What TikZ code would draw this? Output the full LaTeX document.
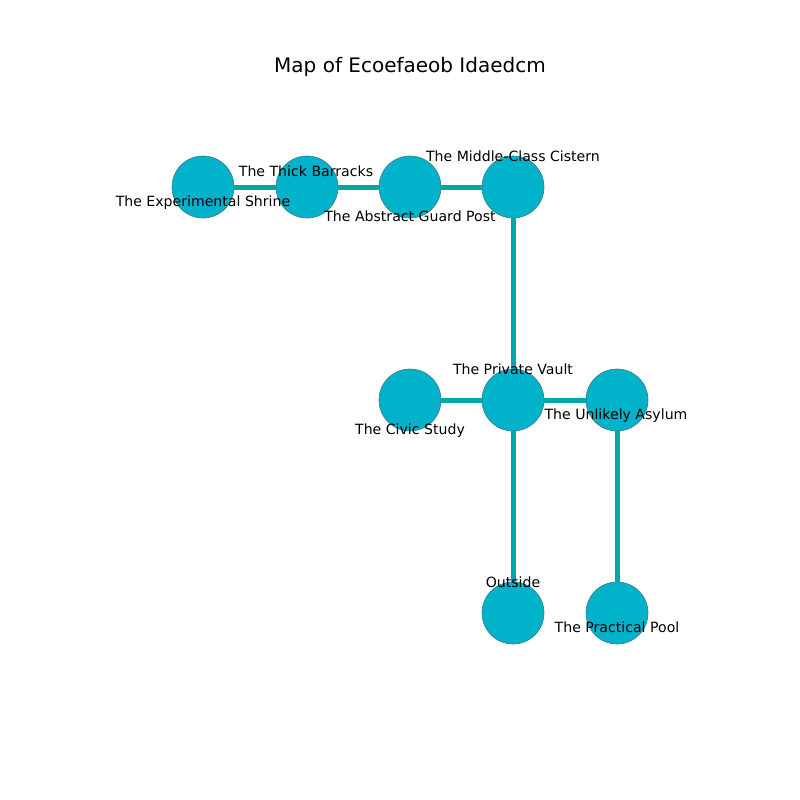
\documentclass[tikz,border=0pt]{standalone}
\usepackage{fontspec}
\setmainfont{DejaVu Sans}
\definecolor{placefill}{RGB}{0,178,202}
\definecolor{placeedge}{RGB}{0,168,168}
\definecolor{placerim}{RGB}{60,120,130}

\begin{document}
\begin{tikzpicture}[x=1pt, y=-1pt]
    \tikzstyle{map place} = [circle,draw=placerim,fill=placefill,line width=0.6pt,inner sep=0pt, minimum size=62pt]
    \tikzstyle{map path} = [draw=placeedge, line width=5pt]
    \tikzstyle{map label} = [inner sep=0pt, font=\fontsize{14.1}{16}\selectfont, text height=0.75em, text depth=0.22em]
\useasboundingbox (0,0) rectangle (800,800);
\node[font=\fontsize{20}{24}\selectfont, inner sep=0pt, text height=0.75em, text depth=0.22em] (title) at (410, 70) {Map of Ecoefaeob Idaedcm};
\node[map place] (shrine) at (203, 187) {};
\node[map place] (barracks) at (307, 187) {};
\node[map place] (guardpost) at (410, 187) {};
\node[map place] (cistern) at (513, 187) {};
\node[map place] (civic) at (410, 400) {};
\node[map place] (vault) at (513, 400) {};
\node[map place] (asylum) at (617, 400) {};
\node[map place] (outside) at (513, 613) {};
\node[map place] (pool) at (617, 613) {};
\draw[map path] (shrine) -- (barracks);
\draw[map path] (barracks) -- (guardpost);
\draw[map path] (guardpost) -- (cistern);
\draw[map path] (cistern) -- (vault);
\draw[map path] (civic) -- (vault);
\draw[map path] (vault) -- (asylum);
\draw[map path] (vault) -- (outside);
\draw[map path] (asylum) -- (pool);
\node[map label] (shrine label) at (203, 204) {The Experimental Shrine};
\node[map label] (barracks label) at (306, 174) {The Thick Barracks};
\node[map label] (guardpost label) at (410, 219) {The Abstract Guard Post};
\node[map label] (cistern label) at (513, 159) {The Middle-Class Cistern};
\node[map label] (vault label) at (513, 372) {The Private Vault};
\node[map label] (civic label) at (410, 432) {The Civic Study};
\node[map label] (asylum label) at (616, 417) {The Unlikely Asylum};
\node[map label] (outside label) at (513, 585) {Outside};
\node[map label] (pool label) at (617, 630) {The Practical Pool};
\end{tikzpicture}
\end{document}
